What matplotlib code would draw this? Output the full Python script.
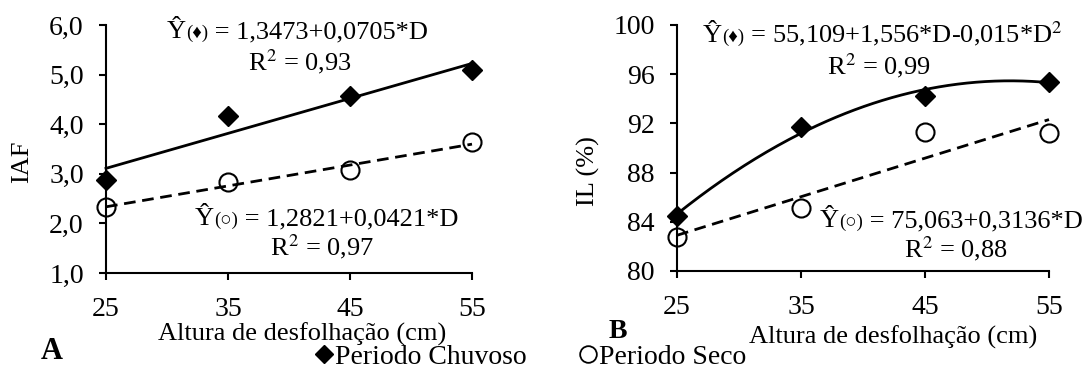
import numpy as np
import matplotlib
matplotlib.use("Agg")
import matplotlib.pyplot as plt
from matplotlib.lines import Line2D

# ---------------- data ----------------
heights = [25, 35, 45, 55]
x_ticks = [25, 35, 45, 55]

iaf_chuvoso = [2.88, 4.16, 4.57, 5.09]
iaf_seco = [2.34, 2.84, 3.07, 3.65]
il_chuvoso = [84.5, 91.7, 94.2, 95.4]
il_seco = [82.8, 85.1, 91.3, 91.2]

# regression coefficients shown on the chart
iaf_chuvoso_coef = [1.3473, 0.0705]          # a + b*D
iaf_seco_coef = [1.2821, 0.0421]
il_chuvoso_coef = [55.109, 1.556, -0.015]    # a + b*D + c*D^2
il_seco_coef = [75.063, 0.3136]

iaf_yticks = [1.0, 2.0, 3.0, 4.0, 5.0, 6.0]
il_yticks = [80, 84, 88, 92, 96, 100]

legend_labels = ["Periodo Chuvoso", "Periodo Seco"]

# ---------------- style ----------------
W, H = 1089, 370
plt.rcParams["font.family"] = ["Liberation Serif", "DejaVu Sans"]
plt.rcParams["mathtext.fontset"] = "stix"
FS_TICK = 20
FS_LAB = 19
FS_EQ = 19
FS_SMALL = 13.5
FS_LEG = 20
LW_AX = 1.5

fig = plt.figure(figsize=(W / 100, H / 100), dpi=100)
renderer = fig.canvas.get_renderer()


def px_axes(x0, y0, x1, y1):
    return fig.add_axes([x0 / W, 1 - y1 / H, (x1 - x0) / W, (y1 - y0) / H])


axA = px_axes(106, 25, 472, 273)
axB = px_axes(677, 25, 1049, 271)

xs = np.linspace(25, 55, 200)


def style(ax):
    for s in ["top", "right"]:
        ax.spines[s].set_visible(False)
    for s in ["left", "bottom"]:
        ax.spines[s].set_linewidth(LW_AX)
    ax.tick_params(direction="out", length=5, width=LW_AX, labelsize=FS_TICK)
    ax.tick_params(axis="x", pad=12)
    ax.tick_params(axis="y", pad=11)
    ax.set_xlim(25, 55)
    ax.set_xticks(x_ticks)


# Panel A
ax = axA
style(ax)
ax.set_ylim(1, 6)
ax.set_yticks(iaf_yticks)
ax.set_yticklabels([f"{v:.1f}".replace(".", ",") for v in iaf_yticks])
yl1 = iaf_chuvoso_coef[0] + iaf_chuvoso_coef[1] * xs
yl2 = iaf_seco_coef[0] + iaf_seco_coef[1] * xs
ax.plot(xs, yl1, color="black", lw=2.0, clip_on=False, zorder=3)
ax.plot(xs, yl2, color="black", lw=2.0, dashes=(4.2, 2.4), clip_on=False, zorder=3)
ax.plot(heights, iaf_chuvoso, ls="none", marker="D", ms=10, color="black",
        clip_on=False, zorder=4)
ax.plot(heights, iaf_seco, ls="none", marker="o", ms=13, mfc="none", mec="black",
        mew=1.5, clip_on=False, zorder=4)
ax.set_xlabel("Altura de desfolhação (cm)", fontsize=FS_LAB)
ax.xaxis.set_label_coords((302 - 106) / 366, (273 - 341) / 248)
ax.xaxis.label.set_verticalalignment("baseline")
ax.set_ylabel("IAF", fontsize=FS_LAB)
ax.yaxis.set_label_coords((22 - 106) / 366, (273 - 162) / 248)
ax.yaxis.label.set_verticalalignment("center")

# Panel B
ax = axB
style(ax)
ax.set_ylim(80, 100)
ax.set_yticks(il_yticks)
yq = il_chuvoso_coef[0] + il_chuvoso_coef[1] * xs + il_chuvoso_coef[2] * xs ** 2
yl = il_seco_coef[0] + il_seco_coef[1] * xs
ax.plot(xs, yq, color="black", lw=2.0, clip_on=False, zorder=3)
ax.plot(xs, yl, color="black", lw=2.0, dashes=(4.2, 2.4), clip_on=False, zorder=3)
ax.plot(heights, il_chuvoso, ls="none", marker="D", ms=10, color="black",
        clip_on=False, zorder=4)
ax.plot(heights, il_seco, ls="none", marker="o", ms=13, mfc="none", mec="black",
        mew=1.5, clip_on=False, zorder=4)
ax.set_xlabel("Altura de desfolhação (cm)", fontsize=FS_LAB)
ax.xaxis.set_label_coords((893 - 677) / 372, (271 - 344) / 246)
ax.xaxis.label.set_verticalalignment("baseline")
ax.set_ylabel("IL (%)", fontsize=FS_LAB)
ax.yaxis.set_label_coords((588 - 677) / 372, (271 - 171) / 246)
ax.yaxis.label.set_verticalalignment("center")


# ---------------- equations ----------------
def eq(x_px, y_px, parts):
    x = x_px
    for s, size in parts:
        t = fig.text(x / W, 1 - y_px / H, s, fontsize=size, ha="left", va="baseline",
                     family=["Liberation Serif", "DejaVu Sans"])
        x += t.get_window_extent(renderer).width


def ctext(xc, y_px, s, size=FS_EQ):
    fig.text(xc / W, 1 - y_px / H, s, fontsize=size, ha="center", va="baseline")


def fmt(v, n):
    return f"{v:.{n}f}".replace(".", ",")


eq(167, 38, [("Ŷ", FS_EQ), ("(♦)", FS_SMALL),
             (f" = {fmt(iaf_chuvoso_coef[0], 4)}+{fmt(iaf_chuvoso_coef[1], 4)}*D", FS_EQ)])
ctext(300, 70, "R$^2$ = 0,93")
eq(195, 225, [("Ŷ", FS_EQ), ("(○)", FS_SMALL),
              (f" = {fmt(iaf_seco_coef[0], 4)}+{fmt(iaf_seco_coef[1], 4)}*D", FS_EQ)])
ctext(322, 255, "R$^2$ = 0,97")

eq(703, 42, [("Ŷ", FS_EQ), ("(♦)", FS_SMALL),
             (f" = {fmt(il_chuvoso_coef[0], 3)}+{fmt(il_chuvoso_coef[1], 3)}*D-"
              f"{fmt(-il_chuvoso_coef[2], 3)}*D$^2$", FS_EQ)])
ctext(879, 74, "R$^2$ = 0,99")
eq(820, 227, [("Ŷ", FS_EQ), ("(○)", FS_SMALL),
              (f" = {fmt(il_seco_coef[0], 3)}+{fmt(il_seco_coef[1], 4)}*D", FS_EQ)])
ctext(956, 257, "R$^2$ = 0,88")

# panel letters
fig.text(41 / W, 1 - 359 / H, "A", fontsize=22, fontweight="bold", ha="left", va="baseline")
fig.text(609 / W, 1 - 338 / H, "B", fontsize=20, fontweight="bold", ha="left", va="baseline")

# legend
handles = [
    Line2D([], [], ls="none", marker="D", ms=9.5, color="black"),
    Line2D([], [], ls="none", marker="o", ms=12, mfc="none", mec="black", mew=1.3),
]
fig.legend(handles, legend_labels, loc="center", bbox_to_anchor=(531 / W, 1 - 357 / H),
           ncol=2, frameon=False, fontsize=FS_LEG, handlelength=0.6, handletextpad=0.1,
           columnspacing=1.9, borderpad=0, borderaxespad=0)

fig.savefig("out.png", dpi=100)
